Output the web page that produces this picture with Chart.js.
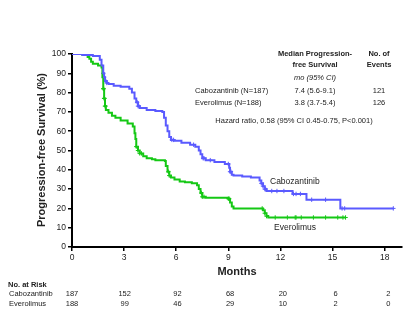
<!DOCTYPE html>
<html>
<head>
<meta charset="utf-8">
<script src="https://cdn.jsdelivr.net/npm/chart.js@4.4.0/dist/chart.umd.min.js"></script>
<style>
  html, body { margin: 0; padding: 0; background: #fff; }
  #wrap { width: 419px; height: 325px; position: relative; }
</style>
</head>
<body>
<div id="wrap"><canvas id="kmChart"></canvas></div>
<script>
// Kaplan-Meier steps (months, % progression-free)
const caboTime = [0, 0.6, 1.2, 1.6, 1.7, 1.8, 1.85, 1.9, 2.0, 2.1, 2.4, 2.8, 3.3, 3.45, 3.6, 3.7, 3.8, 3.9, 4.3, 4.8, 5.2, 5.3, 5.4, 5.5, 5.6, 5.7, 5.9, 6.3, 6.8, 7.1, 7.3, 7.4, 7.5, 7.7, 8.2, 8.8, 9.05, 9.1, 9.2, 9.3, 9.8, 10.3, 10.8, 10.9, 11.0, 11.1, 11.2, 12.7, 13.5, 15.45, 18.5];
const caboSurv = [100, 99.5, 99, 97, 94, 90, 88, 86, 85, 84.5, 83.5, 83, 82, 80, 77, 75, 73, 72, 71, 70.5, 70, 67, 63, 60, 57, 55.5, 55, 54, 53, 52, 50, 48, 46, 45, 44, 43, 41, 39, 37.5, 37, 36.5, 36, 34.5, 33, 31.5, 30, 29, 27.5, 24.5, 20, 20];
const everoTime = [0, 0.6, 0.9, 1.0, 1.1, 1.2, 1.5, 1.7, 1.75, 1.8, 1.85, 1.9, 1.95, 2.1, 2.3, 2.5, 2.8, 3.2, 3.5, 3.6, 3.65, 3.7, 3.8, 3.9, 4.1, 4.3, 4.6, 4.8, 5.35, 5.4, 5.5, 5.6, 5.7, 5.9, 6.2, 6.5, 6.9, 7.2, 7.3, 7.4, 7.5, 7.7, 9.0, 9.1, 9.2, 9.3, 11.0, 11.1, 11.2, 11.3, 15.75];
const everoSurv = [100, 99.5, 98.5, 97.5, 96, 95, 94, 93, 88, 82, 77, 73, 71, 69.5, 68, 67, 65.5, 64, 62.5, 59, 56, 52, 50, 48.5, 47, 46, 45.5, 45, 44.5, 42, 39, 37, 36, 35, 34, 33.5, 33, 32, 30, 28, 26, 25.5, 25, 23, 21, 20, 19, 17.5, 16, 15.3, 15.3];

// censored observations (months)
const caboCensor = [1.8, 1.85, 1.95, 2.0, 3.75, 3.8, 3.85, 5.75, 5.85, 7.0, 7.55, 7.6, 7.96, 9.0, 9.1, 9.15, 10.9, 11.0, 11.1, 11.15, 11.5, 11.8, 12.2, 12.75, 12.9, 13.15, 13.8, 14.6, 15.55, 15.7, 18.5];
const everoCensor = [1.8, 1.82, 1.85, 1.87, 1.9, 1.93, 3.7, 3.8, 3.9, 4.0, 5.55, 5.6, 7.45, 7.5, 7.6, 9.0, 9.05, 10.95, 11.1, 11.2, 11.7, 12.4, 12.85, 12.9, 13.2, 13.9, 14.6, 15.3, 15.6, 15.75];

// numbers at risk, every 3 months
const riskMonths = [0, 3, 6, 9, 12, 15, 18];
const atRiskCabo = [187, 152, 92, 68, 20, 6, 2];
const atRiskEvero = [188, 99, 46, 29, 10, 2, 0];

const blue = "rgb(90, 90, 255)";
const green = "rgb(20, 200, 20)";

function toPoints(t, s) {
  return t.map((x, i) => ({ x: x, y: s[i] }));
}

// survival value of a step curve at time x
function survAt(t, s, x) {
  let v = s[0];
  for (let i = 0; i < t.length; i++) {
    if (t[i] <= x) v = s[i];
  }
  return v;
}

function censorPoints(times, t, s) {
  return times.map(x => ({ x: x, y: survAt(t, s, x) }));
}

const textPlugin = {
  id: "kmText",
  afterDraw(chart) {
    const ctx = chart.ctx;
    const xs = chart.scales.x;
    ctx.save();
    ctx.fillStyle = "#222";
    ctx.textBaseline = "middle";

    // summary table
    ctx.textAlign = "center";
    ctx.font = "bold 7.5px Arial";
    ctx.fillText("Median Progression-", 315, 54);
    ctx.fillText("free Survival", 315, 65);
    ctx.fillText("No. of", 379, 54);
    ctx.fillText("Events", 379, 65);
    ctx.font = "italic 7.5px Arial";
    ctx.fillText("mo (95% CI)", 315, 78);
    ctx.font = "7.5px Arial";
    ctx.fillText("7.4 (5.6-9.1)", 315, 91);
    ctx.fillText("3.8 (3.7-5.4)", 315, 102.5);
    ctx.fillText("121", 379, 91);
    ctx.fillText("126", 379, 102.5);
    ctx.fillText("Hazard ratio, 0.58 (95% CI 0.45-0.75, P<0.001)", 294, 121);
    ctx.textAlign = "left";
    ctx.fillText("Cabozantinib (N=187)", 195, 91);
    ctx.fillText("Everolimus (N=188)", 195, 102.5);

    // curve labels
    ctx.font = "8.5px Arial";
    ctx.fillText("Cabozantinib", 270, 182);
    ctx.fillText("Everolimus", 274, 228);

    // axis titles
    ctx.textAlign = "center";
    ctx.font = "bold 11px Arial";
    ctx.fillText("Months", 237, 272);
    ctx.save();
    ctx.translate(42, 150);
    ctx.rotate(-Math.PI / 2);
    ctx.fillText("Progression-free Survival (%)", 0, 0);
    ctx.restore();

    // numbers at risk
    ctx.textAlign = "left";
    ctx.font = "bold 7.5px Arial";
    ctx.fillText("No. at Risk", 8, 284.5);
    ctx.font = "7.5px Arial";
    ctx.fillText("Cabozantinib", 9, 294);
    ctx.fillText("Everolimus", 9, 303.5);
    ctx.textAlign = "center";
    riskMonths.forEach((m, i) => {
      const px = xs.getPixelForValue(m) + i * 0.6;
      ctx.fillText(String(atRiskCabo[i]), px, 294);
      ctx.fillText(String(atRiskEvero[i]), px, 303.5);
    });
    ctx.restore();
  }
};

new Chart(document.getElementById("kmChart"), {
  type: "line",
  data: {
    datasets: [
      {
        label: "Cabozantinib",
        data: toPoints(caboTime, caboSurv),
        borderColor: blue,
        borderWidth: 2,
        stepped: true,
        pointRadius: 0,
        fill: false
      },
      {
        label: "Everolimus",
        data: toPoints(everoTime, everoSurv),
        borderColor: green,
        borderWidth: 2,
        stepped: true,
        pointRadius: 0,
        fill: false
      },
      {
        type: "scatter",
        label: "Cabozantinib censored",
        data: censorPoints(caboCensor, caboTime, caboSurv),
        borderColor: blue,
        pointStyle: "cross",
        pointRadius: 2.2,
        borderWidth: 1
      },
      {
        type: "scatter",
        label: "Everolimus censored",
        data: censorPoints(everoCensor, everoTime, everoSurv),
        borderColor: green,
        pointStyle: "cross",
        pointRadius: 2.2,
        borderWidth: 1
      }
    ]
  },
  options: {
    responsive: true,
    maintainAspectRatio: false,
    animation: false,
    layout: { autoPadding: false, padding: { left: 0, top: 54, right: 17, bottom: 0 } },
    plugins: {
      legend: { display: false },
      tooltip: { enabled: false }
    },
    scales: {
      x: {
        type: "linear",
        min: 0,
        max: 19,
        afterFit: (scale) => { scale.height = 78; },
        ticks: {
          stepSize: 3,
          includeBounds: false,
          maxRotation: 0,
          padding: 2,
          color: "#222",
          font: { family: "Arial", size: 8.5 }
        },
        grid: { drawOnChartArea: false, drawTicks: true, tickLength: 4, color: "#000", lineWidth: 1.5 },
        border: { display: true, color: "#000", width: 2 }
      },
      y: {
        min: 0,
        max: 100,
        afterFit: (scale) => { scale.width = 72; },
        ticks: {
          stepSize: 10,
          padding: 2,
          color: "#222",
          font: { family: "Arial", size: 8.5 }
        },
        grid: { drawOnChartArea: false, drawTicks: true, tickLength: 4, color: "#000", lineWidth: 1.5 },
        border: { display: true, color: "#000", width: 2 }
      }
    }
  },
  plugins: [textPlugin]
});
</script>
</body>
</html>
